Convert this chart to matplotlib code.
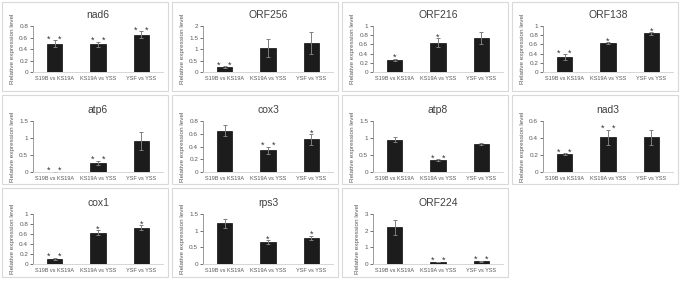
import matplotlib
matplotlib.use("Agg")
import matplotlib.pyplot as plt
from matplotlib.patches import Rectangle
from matplotlib.ticker import FuncFormatter

# categories shared by every panel
groups = ["S19B vs KS19A", "KS19A vs YSS", "YSF vs YSS"]

genes = ["nad6", "ORF256", "ORF216", "ORF138",
         "atp6", "cox3", "atp8", "nad3",
         "cox1", "rps3", "ORF224"]

# mean relative expression
means = {
    "nad6":   [0.49, 0.48, 0.65],
    "ORF256": [0.20, 1.05, 1.25],
    "ORF216": [0.27, 0.64, 0.73],
    "ORF138": [0.33, 0.63, 0.84],
    "atp6":   [0.00, 0.27, 0.92],
    "cox3":   [0.65, 0.34, 0.51],
    "atp8":   [0.95, 0.35, 0.82],
    "nad3":   [0.21, 0.41, 0.41],
    "cox1":   [0.11, 0.63, 0.73],
    "rps3":   [1.22, 0.65, 0.78],
    "ORF224": [2.20, 0.12, 0.16],
}
errs = {
    "nad6":   [0.06, 0.05, 0.06],
    "ORF256": [0.04, 0.40, 0.48],
    "ORF216": [0.02, 0.10, 0.13],
    "ORF138": [0.06, 0.02, 0.03],
    "atp6":   [0.00, 0.06, 0.27],
    "cox3":   [0.08, 0.06, 0.08],
    "atp8":   [0.08, 0.03, 0.04],
    "nad3":   [0.01, 0.09, 0.09],
    "cox1":   [0.02, 0.05, 0.05],
    "rps3":   [0.13, 0.06, 0.07],
    "ORF224": [0.45, 0.02, 0.03],
}
# significance marks per bar
stars = {
    "nad6":   ["* *", "* *", "* *"],
    "ORF256": ["* *", "", ""],
    "ORF216": ["*", "*", ""],
    "ORF138": ["* *", "*", "*"],
    "atp6":   ["* *", "* *", ""],
    "cox3":   ["", "* *", "*"],
    "atp8":   ["", "* *", ""],
    "nad3":   ["* *", "* *", ""],
    "cox1":   ["* *", "*", "*"],
    "rps3":   ["", "*", "*"],
    "ORF224": ["", "* *", "* *"],
}
ymax = {"nad6": 0.8, "ORF256": 2, "ORF216": 1, "ORF138": 1, "atp6": 1.5,
        "cox3": 0.8, "atp8": 1.5, "nad3": 0.6, "cox1": 1, "rps3": 1.5, "ORF224": 3}
ystep = {"nad6": 0.2, "ORF256": 0.5, "ORF216": 0.2, "ORF138": 0.2, "atp6": 0.5,
         "cox3": 0.2, "atp8": 0.5, "nad3": 0.2, "cox1": 0.2, "rps3": 0.5, "ORF224": 1}

W, H = 680, 281
plt.rcParams['font.family'] = ['Liberation Sans', 'DejaVu Sans']
fig = plt.figure(figsize=(W / 100, H / 100), dpi=100)

def fx(px):
    return px / W

def fy(py):
    return 1 - py / H

panel_top = [2, 95, 188]
axes_top = [26, 121, 214]
axes_bot = [72, 172, 264]
txtc = "#595959"

for k, g in enumerate(genes):
    r, c = divmod(k, 4)
    x0 = 2 + 170 * c
    # panel frame
    fig.patches.append(Rectangle((fx(x0), fy(panel_top[r] + 89)), fx(166), 89 / H,
                                 transform=fig.transFigure, fill=False,
                                 edgecolor="#d9d9d9", lw=0.8))
    ax = fig.add_axes([fx(x0 + 31), fy(axes_bot[r]), fx(130),
                       (axes_bot[r] - axes_top[r]) / H])
    xs = range(len(groups))
    ax.bar(xs, means[g], width=0.36, color="#1c1c1c", edgecolor="#0d0d0d", lw=0.5)
    ax.errorbar(xs, means[g], yerr=errs[g], fmt="none", ecolor="#7f7f7f",
                elinewidth=0.7, capsize=1.5, capthick=0.7)
    for i in xs:
        if stars[g][i]:
            top = means[g][i] + errs[g][i]
            s = stars[g][i].replace(" ", "   ")
            ax.annotate(s, (i, top), xytext=(0, -2.5), textcoords="offset points",
                        ha="center", va="bottom", fontsize=6.5, color="#333333")
    ax.set_xlim(-0.5, 2.5)
    ax.set_ylim(0, ymax[g])
    n = int(round(ymax[g] / ystep[g]))
    ax.set_yticks([ystep[g] * j for j in range(n + 1)])
    ax.yaxis.set_major_formatter(FuncFormatter(lambda v, p: "%g" % round(v, 2)))
    ax.set_xticks(list(xs))
    ax.set_xticklabels(groups)
    ax.tick_params(axis="x", length=0, labelsize=4.0, colors=txtc, pad=3)
    ax.tick_params(axis="y", length=2, width=0.6, labelsize=4.6, colors=txtc,
                   pad=1.5, direction="out")
    for sp in ["top", "right"]:
        ax.spines[sp].set_visible(False)
    ax.spines["left"].set_color("#8c8c8c")
    ax.spines["left"].set_linewidth(0.6)
    ax.spines["bottom"].set_color("#d0d0d0")
    ax.spines["bottom"].set_linewidth(0.6)
    ax.set_ylabel("Relative expression level", fontsize=4.6, color=txtc, labelpad=3)
    ax.set_title(g, fontsize=7.5, color="#404040", pad=6)

fig.savefig("out.png", dpi=100, facecolor="white")
